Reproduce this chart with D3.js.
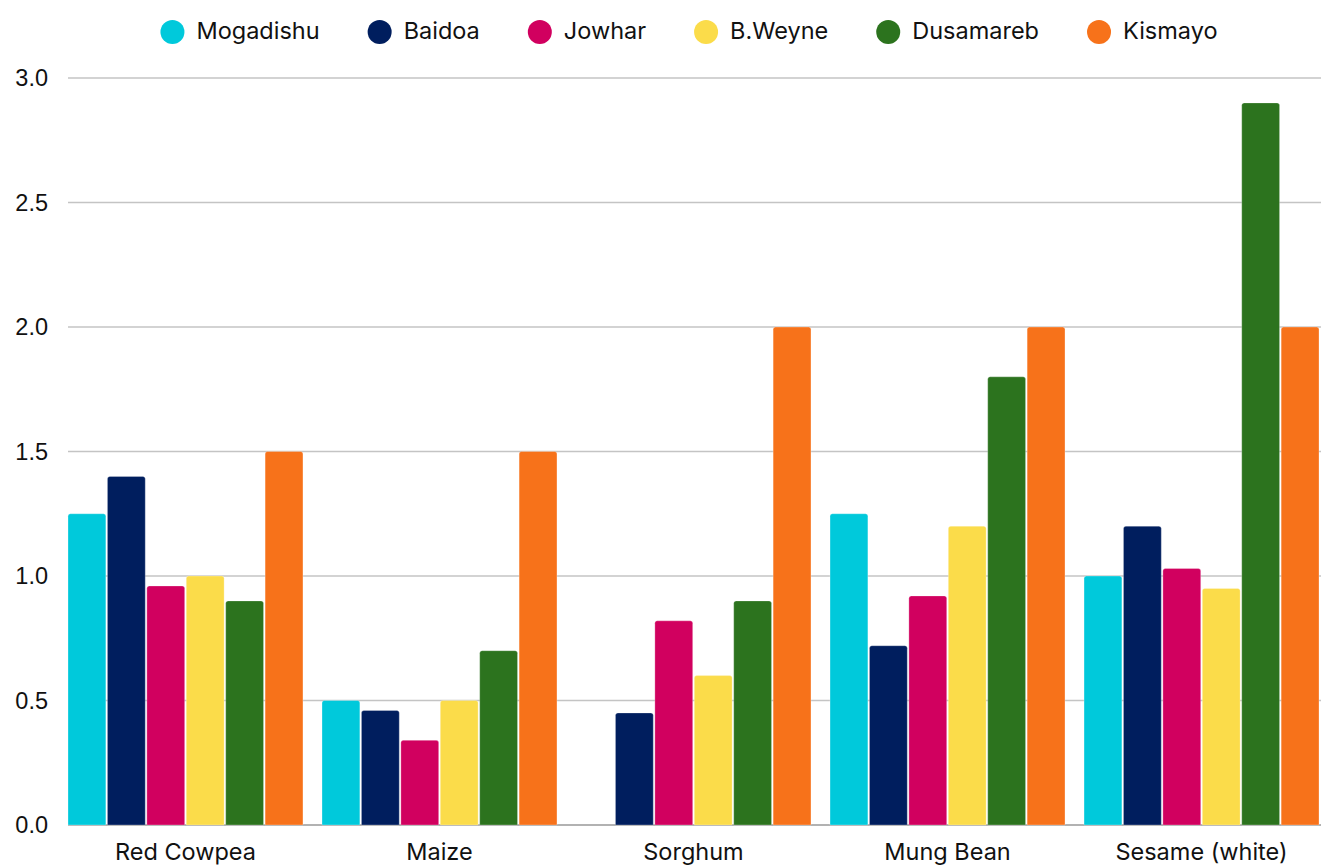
<!DOCTYPE html>
<html>
<head>
<meta charset="utf-8">
<script src="https://cdn.jsdelivr.net/npm/d3@7"></script>
<style>
  body { margin: 0; background: #fff; }
  svg { display: block; }
</style>
</head>
<body>
<div id="chart"></div>
<script>
// crops and markets
const crops = ["Red Cowpea", "Maize", "Sorghum", "Mung Bean", "Sesame (white)"];
const markets = ["Mogadishu", "Baidoa", "Jowhar", "B.Weyne", "Dusamareb", "Kismayo"];
const colors = ["#00C9DB", "#001E5E", "#D1005F", "#FBDC4A", "#2C731E", "#F7721A"];

// values per market, in crop order (null = no data)
const mogadishu = [1.25, 0.5, null, 1.25, 1.0];
const baidoa    = [1.4, 0.46, 0.45, 0.72, 1.2];
const jowhar    = [0.96, 0.34, 0.82, 0.92, 1.03];
const bweyne    = [1.0, 0.5, 0.6, 1.2, 0.95];
const dusamareb = [0.9, 0.7, 0.9, 1.8, 2.9];
const kismayo   = [1.5, 1.5, 2.0, 2.0, 2.0];

const yTicks = [0, 0.5, 1.0, 1.5, 2.0, 2.5, 3.0];

const series = [mogadishu, baidoa, jowhar, bweyne, dusamareb, kismayo];

const width = 1321, height = 867;
const margin = { top: 78, right: 2, bottom: 42, left: 68 };

const svg = d3.select("#chart").append("svg")
    .attr("width", width)
    .attr("height", height)
    .style("font-family", "Inter, 'Open Sans', sans-serif");

const x0 = d3.scaleBand()
    .domain(crops)
    .range([margin.left, 1319])
    .paddingInner(0.075)
    .paddingOuter(0);

const x1 = d3.scaleBand()
    .domain(markets)
    .range([0, x0.bandwidth()])
    .paddingInner(0.04);

const y = d3.scaleLinear()
    .domain([0, 3])
    .range([height - margin.bottom, margin.top]);

// gridlines
svg.append("g")
    .selectAll("line")
    .data(yTicks.filter(d => d > 0))
    .join("line")
    .attr("x1", margin.left)
    .attr("x2", width)
    .attr("y1", d => y(d))
    .attr("y2", d => y(d))
    .attr("stroke", "#c4c4c4")
    .attr("stroke-width", 1.5);

// y labels
svg.append("g")
    .selectAll("text")
    .data(yTicks)
    .join("text")
    .attr("x", 48)
    .attr("y", d => y(d))
    .attr("dy", "0.35em")
    .attr("text-anchor", "end")
    .attr("font-family", "'Liberation Sans', Arial, sans-serif")
    .attr("font-size", 23.5)
    .attr("fill", "#111")
    .text(d => d.toFixed(1));

// baseline
svg.append("line")
    .attr("x1", margin.left)
    .attr("x2", width)
    .attr("y1", y(0))
    .attr("y2", y(0))
    .attr("stroke", "#999")
    .attr("stroke-width", 1.5);

// bars with slightly rounded tops
const barData = [];
crops.forEach((c, ci) => {
    markets.forEach((m, mi) => {
        const v = series[mi][ci];
        if (v != null) barData.push({ crop: c, market: m, value: v, color: colors[mi] });
    });
});

function barPath(d) {
    const bx = x0(d.crop) + x1(d.market);
    const bw = x1.bandwidth();
    const top = y(d.value);
    const bottom = y(0);
    const r = 2.5;
    return `M${bx},${bottom}V${top + r}Q${bx},${top} ${bx + r},${top}` +
        `H${bx + bw - r}Q${bx + bw},${top} ${bx + bw},${top + r}V${bottom}Z`;
}

svg.append("g")
    .selectAll("path")
    .data(barData)
    .join("path")
    .attr("d", barPath)
    .attr("fill", d => d.color)
    .attr("stroke", "#fff")
    .attr("stroke-opacity", 0.35)
    .attr("stroke-width", 0.8);

// category labels
svg.append("g")
    .selectAll("text")
    .data(crops)
    .join("text")
    .attr("x", d => x0(d) + x0.bandwidth() / 2)
    .attr("y", 852)
    .attr("dy", "0.35em")
    .attr("text-anchor", "middle")
    .attr("font-size", 23.5)
    .attr("fill", "#111")
    .text(d => d);

// legend
const legend = svg.append("g");
const items = legend.selectAll("g")
    .data(markets)
    .join("g");
items.append("circle")
    .attr("r", 12)
    .attr("cx", 12)
    .attr("cy", 32)
    .attr("fill", (d, i) => colors[i]);
items.append("text")
    .attr("x", 36)
    .attr("y", 31)
    .attr("dy", "0.35em")
    .attr("font-size", 23.5)
    .attr("fill", "#111")
    .text(d => d);

const gap = 48;
let offset = 0;
const positions = [];
items.each(function () {
    const w = 36 + this.querySelector("text").getComputedTextLength();
    positions.push(offset);
    offset += w + gap;
});
const total = offset - gap;
const startX = 689 - total / 2;
items.attr("transform", (d, i) => `translate(${startX + positions[i]},0)`);
</script>
</body>
</html>
